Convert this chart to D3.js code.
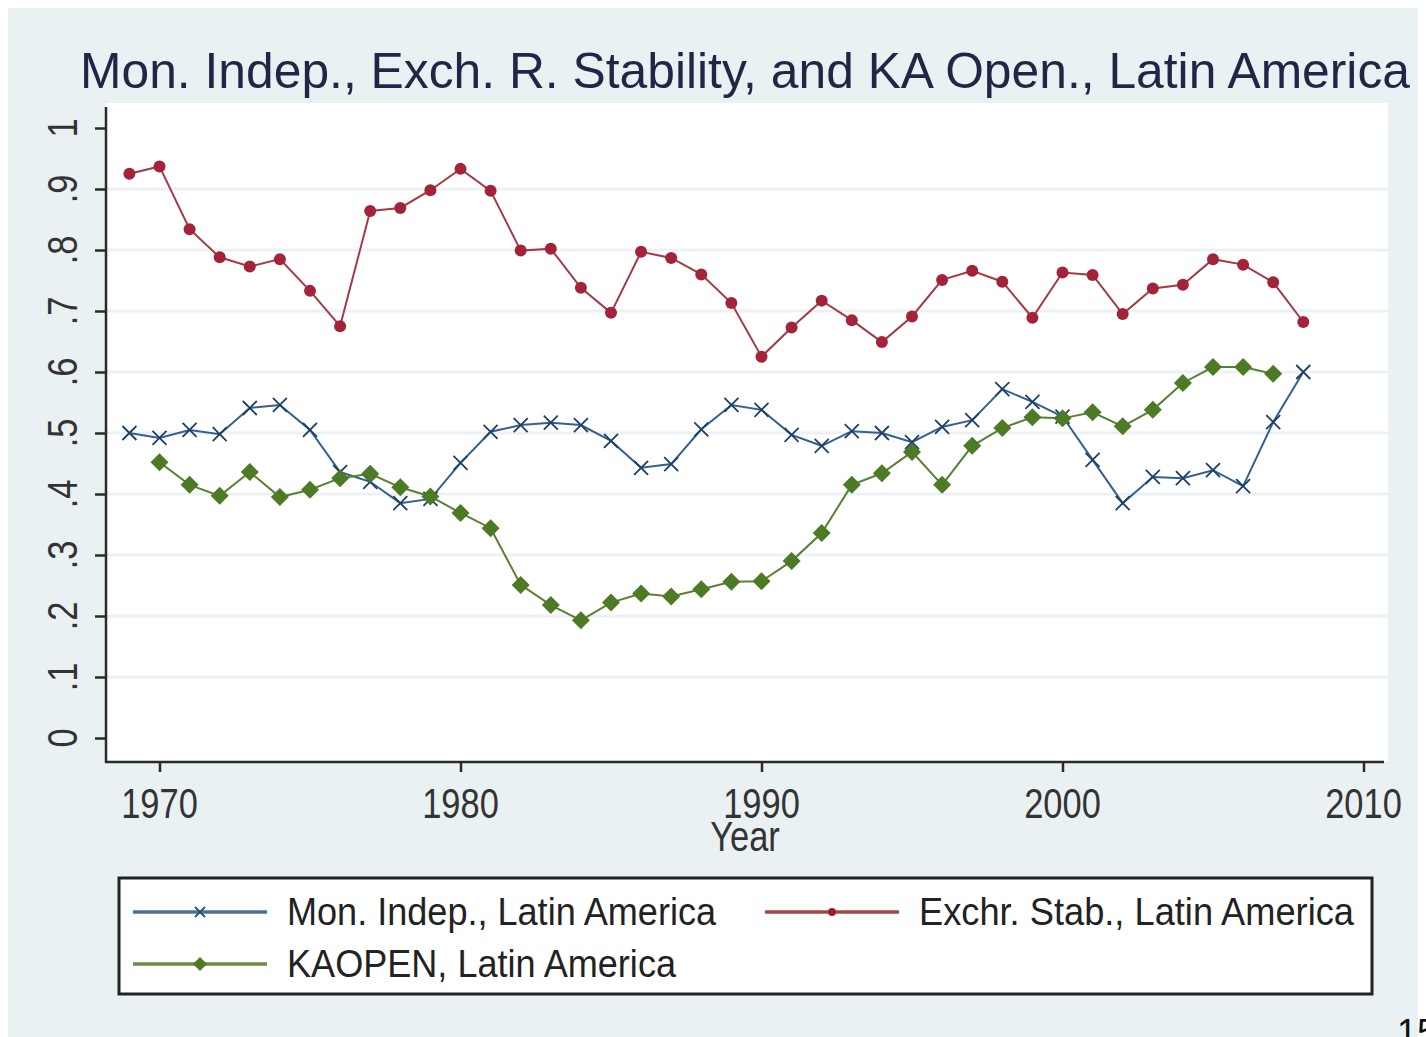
<!DOCTYPE html>
<html>
<head>
<meta charset="utf-8">
<script src="https://cdn.jsdelivr.net/npm/d3@7"></script>
<style>
  body { margin: 0; background: #fff; }
  text { font-family: "Liberation Sans", Arial, sans-serif; }
</style>
</head>
<body>
<script>
const width = 1426,
      height = 1037;

// data
const years = d3.range(1969, 2009);
const kaYears = d3.range(1970, 2008);

const monIndep = [.500, .492, .505, .498, .541, .546, .505, .436, .420, .385,
                  .392, .451, .502, .513, .517, .513, .487, .443, .449, .506,
                  .546, .538, .497, .479, .503, .500, .485, .510, .521, .572,
                  .551, .527, .456, .385, .428, .426, .439, .413, .518, .600];

const exchStab = [.925, .937, .834, .788, .773, .785, .733, .675, .864, .869,
                  .898, .933, .897, .799, .802, .738, .697, .797, .787, .760,
                  .713, .625, .673, .717, .685, .649, .691, .751, .766, .748,
                  .689, .763, .759, .695, .737, .743, .785, .776, .747, .682];

const kaopen = [.452, .415, .397, .436, .395, .407, .426, .433, .411, .396,
                .369, .344, .251, .218, .193, .222, .237, .232, .244, .256,
                .257, .290, .336, .415, .434, .469, .415, .479, .508, .526,
                .524, .534, .511, .538, .582, .608, .608, .597];

const yTicks = d3.range(0, 11).map(d => d / 10);
const xTicks = [1970, 1980, 1990, 2000, 2010];

const legendLabels = ["Mon. Indep., Latin America", "Exchr. Stab., Latin America", "KAOPEN, Latin America"];

const svg = d3.select("body")
    .append("svg")
    .attr("width", width)
    .attr("height", height);

// outer graph region
svg.append("rect")
    .attr("x", 8).attr("y", 8)
    .attr("width", 1410).attr("height", 1040)
    .attr("fill", "#eaf1f3");

// plot region
svg.append("rect")
    .attr("x", 106).attr("y", 103)
    .attr("width", 1282).attr("height", 659)
    .attr("fill", "#fff");

var x = d3.scaleLinear()
    .domain([1970, 2010])
    .range([159.5, 1363.5]);

var y = d3.scaleLinear()
    .domain([0, 1])
    .range([738, 128]);

// gridlines
svg.append("g")
    .selectAll("line")
    .data(yTicks.filter(d => d > 0 && d < 1))
    .enter().append("line")
    .attr("x1", 107).attr("x2", 1388)
    .attr("y1", d => y(d)).attr("y2", d => y(d))
    .attr("stroke", "#edf1f3")
    .attr("stroke-width", 3);

// axes (ticks only, labels drawn below)
const axisCol = "#2b2b2b";
svg.append("g")
    .attr("transform", "translate(106,0)")
    .call(d3.axisLeft(y).tickValues(yTicks).tickSize(11).tickFormat(""))
    .call(g => g.select(".domain").remove())
    .selectAll("line").attr("stroke", axisCol).attr("stroke-width", 2.5);

svg.append("g")
    .attr("transform", "translate(0,762)")
    .call(d3.axisBottom(x).tickValues(xTicks).tickSize(10).tickFormat(""))
    .call(g => g.select(".domain").remove())
    .selectAll("line").attr("stroke", axisCol).attr("stroke-width", 2.5);

svg.append("line")
    .attr("x1", 106).attr("x2", 106).attr("y1", 107).attr("y2", 763)
    .attr("stroke", axisCol).attr("stroke-width", 2.5);
svg.append("line")
    .attr("x1", 105).attr("x2", 1384).attr("y1", 762).attr("y2", 762)
    .attr("stroke", axisCol).attr("stroke-width", 2.5);

const fmtY = v => v === 0 ? "0" : v === 1 ? "1" : v.toFixed(1).replace(/^0/, "");

svg.append("g")
    .selectAll("text")
    .data(yTicks)
    .enter().append("text")
    .attr("transform", d => `translate(77,${y(d)}) rotate(-90) scale(0.82,1)`)
    .attr("text-anchor", "middle")
    .attr("font-size", 42)
    .attr("fill", "#333")
    .text(fmtY);

svg.append("g")
    .selectAll("text")
    .data(xTicks)
    .enter().append("text")
    .attr("transform", d => `translate(${x(d)},818) scale(0.82,1)`)
    .attr("text-anchor", "middle")
    .attr("font-size", 42)
    .attr("fill", "#333")
    .text(d => d);

svg.append("text")
    .attr("transform", "translate(745,851) scale(0.82,1)")
    .attr("text-anchor", "middle")
    .attr("font-size", 42)
    .attr("fill", "#333")
    .text("Year");

// title
svg.append("text")
    .attr("x", 80).attr("y", 88)
    .attr("font-size", 50)
    .attr("textLength", 1330)
    .attr("lengthAdjust", "spacingAndGlyphs")
    .attr("fill", "#1e2846")
    .text("Mon. Indep., Exch. R. Stability, and KA Open., Latin America");

// series
const line = d3.line()
    .x(d => x(d[0]))
    .y(d => y(d[1]));

const series = [
  {name: "mon", data: d3.zip(years, monIndep), line: "#35608e", mark: "#1c3f68", shape: "x"},
  {name: "exch", data: d3.zip(years, exchStab), line: "#a43a46", mark: "#a3243a", shape: "circle"},
  {name: "ka", data: d3.zip(kaYears, kaopen), line: "#5b7f34", mark: "#4d7a24", shape: "diamond"}
];

const drawMarker = (g, shape, col, s) => {
  if (shape === "x") {
    g.append("path")
      .attr("d", `M${-s},${-s}L${s},${s}M${-s},${s}L${s},${-s}`)
      .attr("stroke", col).attr("stroke-width", 1.8).attr("fill", "none");
  } else if (shape === "circle") {
    g.append("circle").attr("r", s).attr("fill", col);
  } else {
    g.append("path")
      .attr("d", `M0,${-s}L${s},0L0,${s}L${-s},0Z`)
      .attr("fill", col);
  }
};

const markSize = {x: 7, circle: 6, diamond: 9};

series.forEach(s => {
  svg.append("path")
      .datum(s.data)
      .attr("class", s.name)
      .attr("d", line)
      .attr("fill", "none")
      .attr("stroke", s.line)
      .attr("stroke-width", 2);

  svg.selectAll(`g.m-${s.name}`)
      .data(s.data)
      .enter().append("g")
      .attr("class", `m-${s.name}`)
      .attr("transform", d => `translate(${x(d[0])},${y(d[1])})`)
      .each(function() { drawMarker(d3.select(this), s.shape, s.mark, markSize[s.shape]); });
});

// legend
svg.append("rect")
    .attr("x", 119).attr("y", 878)
    .attr("width", 1253).attr("height", 116)
    .attr("fill", "#fff")
    .attr("stroke", "#222")
    .attr("stroke-width", 3);

const legendItems = [
  {label: legendLabels[0], x0: 133, y0: 912, col: "#4d6f96", mark: "#2c4f7c", shape: "x", size: 5, len: 429},
  {label: legendLabels[1], x0: 765, y0: 912, col: "#a4464f", mark: "#9b2236", shape: "circle", size: 4, len: 435},
  {label: legendLabels[2], x0: 133, y0: 964, col: "#6c8b42", mark: "#4f7a24", shape: "diamond", size: 7, len: 389}
];

legendItems.forEach(d => {
  svg.append("line")
      .attr("x1", d.x0).attr("x2", d.x0 + 134)
      .attr("y1", d.y0).attr("y2", d.y0)
      .attr("stroke", d.col).attr("stroke-width", 3.5);
  drawMarker(svg.append("g").attr("transform", `translate(${d.x0 + 67},${d.y0})`), d.shape, d.mark, d.size);
  svg.append("text")
      .attr("x", d.x0 + 154).attr("y", d.y0 + 13)
      .attr("font-size", 38)
      .attr("textLength", d.len)
      .attr("lengthAdjust", "spacingAndGlyphs")
      .attr("fill", "#222")
      .text(d.label);
});

// page number, cut off at the bottom edge
svg.append("text")
    .attr("x", 1397).attr("y", 1045)
    .attr("font-size", 36)
    .attr("fill", "#111")
    .text("15");
</script>
</body>
</html>
